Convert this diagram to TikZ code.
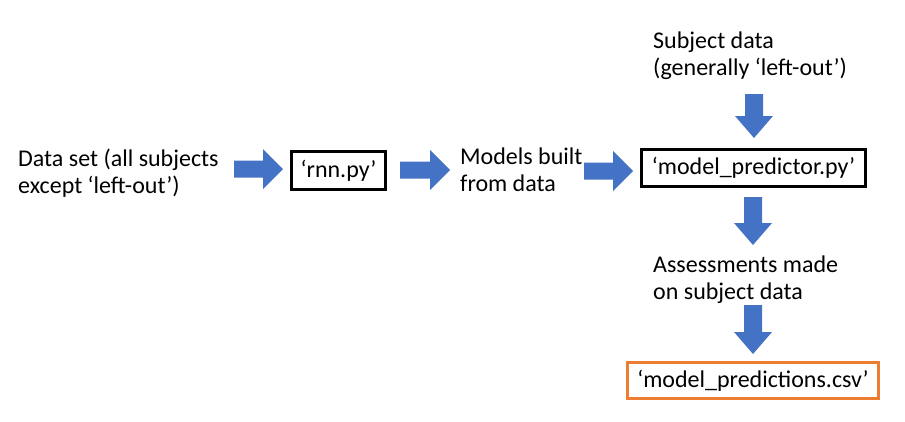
\documentclass[tikz,border=0pt]{standalone}
\usepackage{fontspec}
\setmainfont{Carlito}
\usetikzlibrary{calc}
\definecolor{arrowblue}{HTML}{4472C4}
\definecolor{boxorange}{HTML}{ED7D31}
\tikzset{
  lbl/.style={anchor=base west, align=left, inner sep=0pt, font=\fontsize{24}{27}\selectfont},
  filebox/.style={draw=black, line width=3pt, inner sep=0pt, font=\fontsize{24}{27}\selectfont},
  harrow/.style={to path={($(\tikztostart)+(0,-8.5)$) -- ($(\tikztotarget)+(-20,-8.5)$) -- ($(\tikztotarget)+(-20,-20)$) -- (\tikztotarget) -- ($(\tikztotarget)+(-20,20)$) -- ($(\tikztotarget)+(-20,8.5)$) -- ($(\tikztostart)+(0,8.5)$) -- cycle}},
  varrow/.style={to path={($(\tikztostart)+(-9,0)$) -- ($(\tikztotarget)+(-9,-22)$) -- ($(\tikztotarget)+(-19,-22)$) -- (\tikztotarget) -- ($(\tikztotarget)+(19,-22)$) -- ($(\tikztotarget)+(9,-22)$) -- ($(\tikztostart)+(9,0)$) -- cycle}}
}
\begin{document}
\begin{tikzpicture}[x=1pt, y=-1pt]
\useasboundingbox (0,0) rectangle (905,421);
\node[lbl] (data) at (18,193) {Data set (all subjects\\except ‘left-out’)};
\node[lbl] (models) at (460,191) {Models built\\from data};
\node[lbl] (subj) at (653,75) {Subject data\\(generally ‘left-out’)};
\node[lbl] (assess) at (653,299) {Assessments made\\on subject data};
\node[filebox, minimum width=94pt, minimum height=38pt] (rnn) at (338.5,170.5) {‘rnn.py’};
\node[filebox, minimum width=224pt, minimum height=37pt] (pred) at (753.5,168) {‘model\_predictor.py’};
\node[filebox, draw=boxorange, minimum width=251pt, minimum height=36pt] (csv) at (753,380.5) {‘model\_predictions.csv’};
\coordinate (a1s) at (234,169); \coordinate (a1e) at (283,169);
\coordinate (a2s) at (400,170); \coordinate (a2e) at (450,170);
\coordinate (a3s) at (584,171); \coordinate (a3e) at (633,171);
\coordinate (v1s) at (754,94);  \coordinate (v1e) at (754,138);
\coordinate (v2s) at (753,197); \coordinate (v2e) at (753,245);
\coordinate (v3s) at (753,305); \coordinate (v3e) at (753,354);
\fill[arrowblue] (a1s) to[harrow] (a1e);
\fill[arrowblue] (a2s) to[harrow] (a2e);
\fill[arrowblue] (a3s) to[harrow] (a3e);
\fill[arrowblue] (v1s) to[varrow] (v1e);
\fill[arrowblue] (v2s) to[varrow] (v2e);
\fill[arrowblue] (v3s) to[varrow] (v3e);
\end{tikzpicture}
\end{document}
